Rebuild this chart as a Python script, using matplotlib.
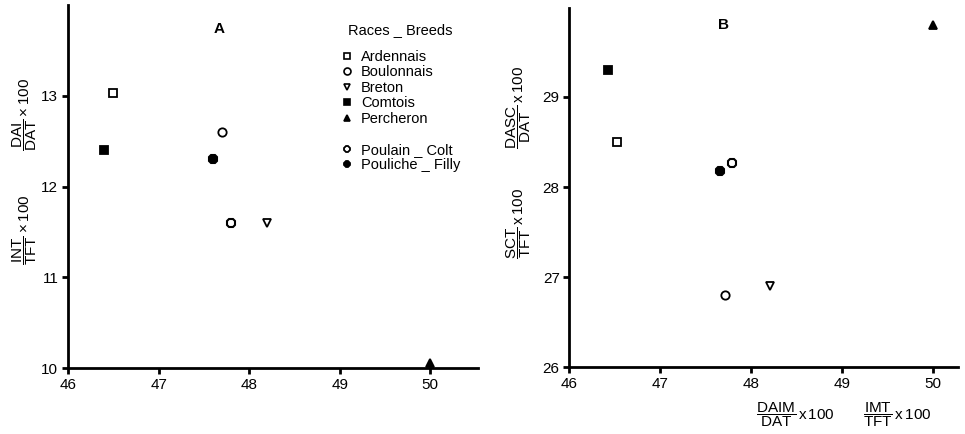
import matplotlib
matplotlib.use('Agg')
import matplotlib.pyplot as plt
from matplotlib.lines import Line2D

plt.rcParams['font.family'] = ['Liberation Sans', 'DejaVu Sans']
plt.rcParams['mathtext.fontset'] = 'custom'
plt.rcParams['mathtext.rm'] = 'Liberation Sans'
plt.rcParams['mathtext.it'] = 'Liberation Sans'

# ==========================
# Datos
# ==========================
razas = ['Ardennais', 'Boulonnais', 'Breton', 'Comtois', 'Percheron']
marcadores_raza = ['s', 'o', 'v', 's', '^']
relleno_raza = ['white', 'white', 'white', 'black', 'black']

sexos = ['Poulain _ Colt', 'Pouliche _ Filly']
marcadores_sexo = ['8', '8']
relleno_sexo = ['white', 'black']

# Panel A
a_raza_x = [46.5, 47.7, 48.2, 46.4, 50.0]
a_raza_y = [13.03, 12.6, 11.6, 12.4, 10.05]
a_sexo_x = [47.8, 47.6]
a_sexo_y = [11.6, 12.3]

# Panel B
b_raza_x = [46.52, 47.71, 48.21, 46.42, 50.0]
b_raza_y = [28.5, 26.8, 26.9, 29.3, 29.8]
b_sexo_x = [47.79, 47.66]
b_sexo_y = [28.27, 28.18]

x_ticks = [46, 47, 48, 49, 50]
a_y_ticks = [10, 11, 12, 13]
b_y_ticks = [26, 27, 28, 29]


def estilo_ejes(ax, xlim, ylim, yticks):
    for lado in ['top', 'right']:
        ax.spines[lado].set_visible(False)
    for lado in ['left', 'bottom']:
        ax.spines[lado].set_linewidth(2.0)
    ax.set_xlim(*xlim)
    ax.set_ylim(*ylim)
    ax.set_xticks(x_ticks)
    ax.set_yticks(yticks)
    ax.tick_params(axis='both', direction='out', length=4, width=2,
                   labelsize=11, pad=3)


def dibujar(ax, rx, ry, sx, sy):
    for i in range(len(razas)):
        ax.plot(rx[i], ry[i], marker=marcadores_raza[i], ms=6,
                mfc=relleno_raza[i], mec='black', mew=1.3,
                linestyle='none', clip_on=False, zorder=5)
    for i in range(len(sexos)):
        ax.plot(sx[i], sy[i], marker=marcadores_sexo[i], ms=6,
                mfc=relleno_sexo[i], mec='black', mew=1.5,
                linestyle='none', clip_on=False, zorder=5)


fig = plt.figure(figsize=(9.65, 4.34), dpi=100)
ax_a = fig.add_axes([0.0705, 0.152, 0.425, 0.836])
ax_b = fig.add_axes([0.590, 0.154, 0.403, 0.828])

estilo_ejes(ax_a, (46, 50.53), (10, 14.0), a_y_ticks)
estilo_ejes(ax_b, (46, 50.28), (26, 29.99), b_y_ticks)

dibujar(ax_a, a_raza_x, a_raza_y, a_sexo_x, a_sexo_y)
dibujar(ax_b, b_raza_x, b_raza_y, b_sexo_x, b_sexo_y)

ax_a.text(0.368, 0.935, 'A', transform=ax_a.transAxes, ha='center',
          va='center', fontsize=11, fontweight='bold')
ax_b.text(0.396, 0.953, 'B', transform=ax_b.transAxes, ha='center',
          va='center', fontsize=11, fontweight='bold')

# Leyenda
handles = []
labels = []
for i in range(len(razas)):
    handles.append(Line2D([], [], marker=marcadores_raza[i], ms=5,
                          mfc=relleno_raza[i], mec='black', mew=1.2,
                          linestyle='none'))
    labels.append(razas[i])
handles.append(Line2D([], [], linestyle='none'))
labels.append(' ')
for i in range(len(sexos)):
    handles.append(Line2D([], [], marker=marcadores_sexo[i], ms=5,
                          mfc=relleno_sexo[i], mec='black', mew=1.3,
                          linestyle='none'))
    labels.append(sexos[i])

ax_a.text(0.81, 0.931, 'Races _ Breeds', transform=ax_a.transAxes,
          ha='center', va='center', fontsize=10.5)
ax_a.legend(handles, labels, loc='upper left', bbox_to_anchor=(0.64, 0.905),
            frameon=False, fontsize=10.5,
            handlelength=0.8, handletextpad=0.6,
            labelspacing=0.1, borderpad=0.2)

# Etiquetas de ejes
fig.text(0.026, 0.737, r'$\dfrac{\mathrm{DAI}}{\mathrm{DAT}}\times 100$',
         rotation=90, ha='center', va='center', fontsize=11)
fig.text(0.026, 0.47, r'$\dfrac{\mathrm{INT}}{\mathrm{TFT}}\times 100$',
         rotation=90, ha='center', va='center', fontsize=11)
fig.text(0.537, 0.753, r'$\dfrac{\mathrm{DASC}}{\mathrm{DAT}}\,\mathrm{x}\,100$',
         rotation=90, ha='center', va='center', fontsize=11)
fig.text(0.537, 0.486, r'$\dfrac{\mathrm{SCT}}{\mathrm{TFT}}\,\mathrm{x}\,100$',
         rotation=90, ha='center', va='center', fontsize=11)
fig.text(0.824, 0.044, r'$\dfrac{\mathrm{DAIM}}{\mathrm{DAT}}\,\mathrm{x}\,100$',
         ha='center', va='center', fontsize=11)
fig.text(0.93, 0.044, r'$\dfrac{\mathrm{IMT}}{\mathrm{TFT}}\,\mathrm{x}\,100$',
         ha='center', va='center', fontsize=11)

fig.savefig('out.png', dpi=100)
